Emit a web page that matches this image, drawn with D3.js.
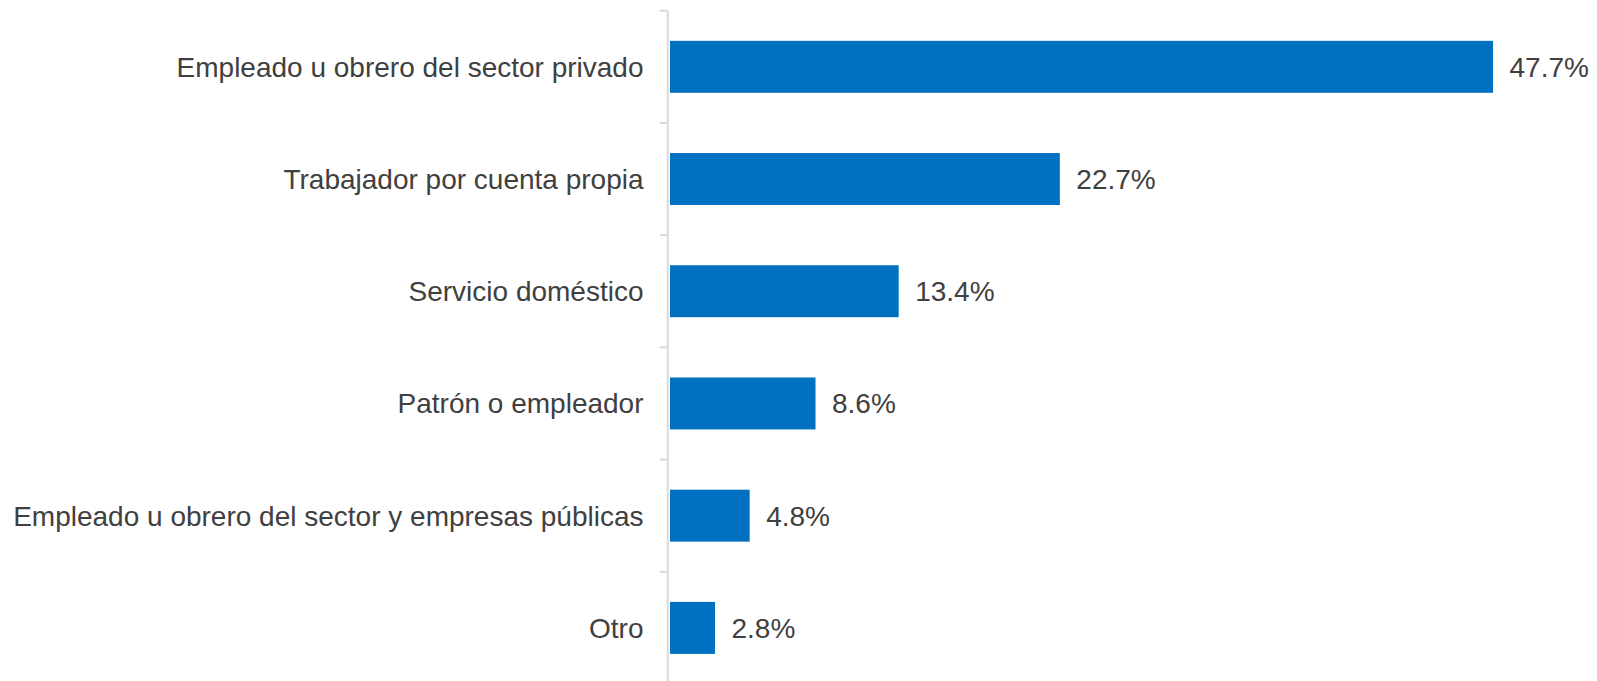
<!DOCTYPE html>
<html>
<head>
<meta charset="utf-8">
<script src="https://cdn.jsdelivr.net/npm/d3@7"></script>
<style>
  html, body { margin: 0; padding: 0; background: #ffffff; }
  svg { display: block; }
  text { font-family: "Liberation Sans", Arial, sans-serif; }
</style>
</head>
<body>
<svg id="chart" width="1597" height="681"></svg>
<script>
const categories = [
  "Empleado u obrero del sector privado",
  "Trabajador por cuenta propia",
  "Servicio doméstico",
  "Patrón o empleador",
  "Empleado u obrero del sector y empresas públicas",
  "Otro"
];
const values = [47.7, 22.7, 13.4, 8.6, 4.8, 2.8];
const valueLabels = ["47.7%", "22.7%", "13.4%", "8.6%", "4.8%", "2.8%"];

const W = 1597, H = 681;
const svg = d3.select("#chart");

const x = d3.scaleLinear().domain([0, 47.7]).range([666.5, 1493]);
const y = d3.scaleBand().domain(categories).range([10.7, 684])
  .paddingInner(0.537).paddingOuter(0.2685);

const barGap = 3.5;
const textColor = "#404040";
const axisColor = "#d9d9d9";

// bars
svg.append("g").selectAll("rect")
  .data(values)
  .join("rect")
  .attr("x", x(0) + barGap)
  .attr("y", (d, i) => y(categories[i]))
  .attr("width", d => x(d) - x(0) - barGap)
  .attr("height", y.bandwidth())
  .attr("fill", "#0070c0");

// vertical axis line
const axisX = x(0) + 1.2;
svg.append("line")
  .attr("x1", axisX).attr("x2", axisX)
  .attr("y1", y.range()[0]).attr("y2", H)
  .attr("stroke", axisColor).attr("stroke-width", 2);

// tick marks at band boundaries
const step = y.step();
const boundaries = d3.range(categories.length + 1).map(i => y.range()[0] + i * step);
svg.append("g").selectAll("line")
  .data(boundaries.filter(b => b < H))
  .join("line")
  .attr("x1", axisX - 8).attr("x2", axisX)
  .attr("y1", d => d).attr("y2", d => d)
  .attr("stroke", axisColor).attr("stroke-width", 2);

// category labels
svg.append("g").selectAll("text")
  .data(categories)
  .join("text")
  .attr("x", 643.5)
  .attr("y", d => y(d) + y.bandwidth() / 2)
  .attr("dy", "0.355em")
  .attr("text-anchor", "end")
  .attr("font-size", 28)
  .attr("fill", textColor)
  .text(d => d);

// value labels
svg.append("g").selectAll("text")
  .data(values)
  .join("text")
  .attr("x", d => x(d) + 16.5)
  .attr("y", (d, i) => y(categories[i]) + y.bandwidth() / 2)
  .attr("dy", "0.355em")
  .attr("text-anchor", "start")
  .attr("font-size", 28)
  .attr("fill", textColor)
  .text((d, i) => valueLabels[i]);
</script>
</body>
</html>
